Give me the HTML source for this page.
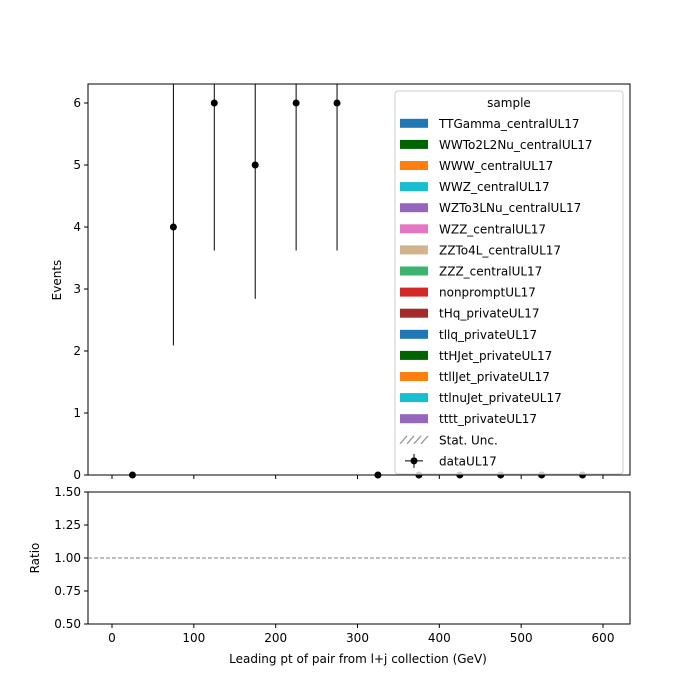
<!DOCTYPE html>
<html><head><meta charset="utf-8"><style>
body{margin:0;background:#fff}
svg{font-family:"DejaVu Sans","Liberation Sans",sans-serif;display:block}
</style></head><body>
<svg id="chart" width="700" height="700" xmlns="http://www.w3.org/2000/svg"></svg>
<script>
const binCenters=[25,75,125,175,225,275,325,375,425,475,525,575];
const counts=[0,4,6,5,6,6,0,0,0,0,0,0];
const errLow=[0,1.91,2.38,2.16,2.38,2.38,0,0,0,0,0,0];
const errHigh=[0,3.16,3.58,3.38,3.58,3.58,0,0,0,0,0,0];
const xTicks=[0,100,200,300,400,500,600];
const yTicks=[0,1,2,3,4,5,6];
const rTicks=[0.5,0.75,1.0,1.25,1.5];
const samples=["TTGamma_centralUL17","WWTo2L2Nu_centralUL17","WWW_centralUL17","WWZ_centralUL17","WZTo3LNu_centralUL17","WZZ_centralUL17","ZZTo4L_centralUL17","ZZZ_centralUL17","nonpromptUL17","tHq_privateUL17","tllq_privateUL17","ttHJet_privateUL17","ttllJet_privateUL17","ttlnuJet_privateUL17","tttt_privateUL17"];
const sampleColors=["#1f77b4","#006400","#ff7f0e","#17becf","#9467bd","#e377c2","#d2b48c","#3cb371","#d62728","#a52a2a","#1f77b4","#006400","#ff7f0e","#17becf","#9467bd"];

const NS="http://www.w3.org/2000/svg";
const svg=document.getElementById('chart');
function mk(t,a,p){const e=document.createElementNS(NS,t);for(const k in a)e.setAttribute(k,a[k]);(p||svg).appendChild(e);return e;}
const L=88,R=630,T=84,B=475,RT=492,RB=624;
const X=v=>112+(v)*491/600;
const Y=v=>475-v*62;
const RY=v=>RB-(v-0.5)*(RB-RT);

// main axes frame
let f=mk('rect',{x:L,y:T,width:R-L,height:B-T,fill:'none',stroke:'#000','stroke-width':1});


let f2=mk('rect',{x:L,y:RT,width:R-L,height:RB-RT,fill:'none',stroke:'#000','stroke-width':1});



// ticks
xTicks.forEach(v=>{
  const x=X(v);
  let t1=mk('line',{x1:x,x2:x,y1:B,y2:B+4,stroke:'#000'});
  
  
  let t2=mk('line',{x1:x,x2:x,y1:RB,y2:RB+4,stroke:'#000'});
  
  
  let tx=mk('text',{x:x,y:RB+18,'text-anchor':'middle','font-size':12});
  tx.textContent=v;
  
  
});
yTicks.forEach(v=>{
  const y=Y(v);
  let t=mk('line',{x1:L-4,x2:L,y1:y,y2:y,stroke:'#000'});
  
  
  let tx=mk('text',{x:L-7,y:y+4,'text-anchor':'end','font-size':12});
  tx.textContent=v;
  
  
});
rTicks.forEach(v=>{
  const y=RY(v);
  let t=mk('line',{x1:L-4,x2:L,y1:y,y2:y,stroke:'#000'});
  
  
  let tx=mk('text',{x:L-7,y:y+4,'text-anchor':'end','font-size':12});
  tx.textContent=v.toFixed(2);
  
  
});
let dl=mk('line',{x1:L,x2:R,y1:RY(1),y2:RY(1),stroke:'#808080','stroke-dasharray':'4,2'});



// axis titles
let yt=mk('text',{x:61,y:280,'text-anchor':'middle','font-size':12,transform:'rotate(-90 61 280)'});
yt.textContent='Events';


let rt=mk('text',{x:39,y:558,'text-anchor':'middle','font-size':12,transform:'rotate(-90 39 558)'});
rt.textContent='Ratio';


let xt=mk('text',{x:358,y:663,'text-anchor':'middle','font-size':12});
xt.textContent='Leading pt of pair from l+j collection (GeV)';



// data points
const clip=mk('clipPath',{id:'mc'});mk('rect',{x:L,y:T,width:R-L,height:B-T+6},clip);
const g=mk('g',{'clip-path':'url(#mc)'});


binCenters.forEach((c,i)=>{
  const x=X(c),v=counts[i];
  if(v>0){
    let e=mk('line',{x1:x,x2:x,y1:Y(v-errLow[i]),y2:Y(v+errHigh[i]),stroke:'#000','stroke-width':1},g);
    
    
  }
  let p=mk('circle',{cx:x,cy:Y(v),r:3.5,fill:'#000'},g);
  
  
});

// legend
const lg=mk('g',{});


mk('rect',{x:395,y:91,width:228,height:383,rx:3,fill:'rgba(255,255,255,0.8)',stroke:'#ccc'},lg);
let ltl=mk('text',{x:509,y:107,'text-anchor':'middle','font-size':12},lg);
ltl.textContent='sample';
samples.forEach((s,i)=>{
  const y=123.3+i*21.1;
  const e=mk('g',{},lg);
  
  
  mk('rect',{x:400,y:y-4.5,width:28,height:9,fill:sampleColors[i]},e);
  const t=mk('text',{x:439,y:y+4.5,'font-size':12},e);t.textContent=s;
});
let yS=123.3+15*21.1;
const es=mk('g',{},lg);


for(let k=0;k<4;k++)mk('line',{x1:400+k*7,y1:yS+4,x2:407+k*7,y2:yS-4,stroke:'#999','stroke-width':1.3},es);
let ts=mk('text',{x:439,y:yS+4.5,'font-size':12},es);ts.textContent='Stat. Unc.';
let yD=123.3+16*21.1;
const ed=mk('g',{},lg);


mk('line',{x1:405,x2:423,y1:yD,y2:yD,stroke:'#000'},ed);
mk('line',{x1:414,x2:414,y1:yD-7,y2:yD+7,stroke:'#000'},ed);
mk('circle',{cx:414,cy:yD,r:3.5,fill:'#000'},ed);
let td=mk('text',{x:439,y:yD+4.5,'font-size':12},ed);td.textContent='dataUL17';
</script>
</body></html>
